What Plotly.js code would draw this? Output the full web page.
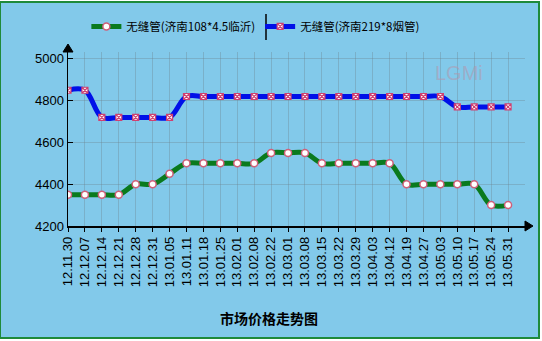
<!DOCTYPE html>
<html>
<head>
<meta charset="utf-8">
<script src="https://cdn.plot.ly/plotly-3.0.1.min.js"></script>
<style>html,body{margin:0;padding:0;background:#fff;}#chart{width:542px;height:341px;}</style>
</head>
<body>
<div id="chart"></div>
<script>
const dates = ["12.11.30","12.12.07","12.12.14","12.12.21","12.12.28","12.12.31","13.01.05","13.01.11","13.01.18","13.01.25","13.02.01","13.02.08","13.02.22","13.03.01","13.03.08","13.03.15","13.03.22","13.03.29","13.04.03","13.04.12","13.04.19","13.04.27","13.05.03","13.05.10","13.05.17","13.05.24","13.05.31"];
const seriesLinyi = [4350,4350,4350,4350,4400,4400,4450,4500,4500,4500,4500,4500,4550,4550,4550,4500,4500,4500,4500,4500,4400,4400,4400,4400,4400,4300,4300];
const seriesYantai = [4850,4850,4720,4720,4720,4720,4720,4820,4820,4820,4820,4820,4820,4820,4820,4820,4820,4820,4820,4820,4820,4820,4820,4770,4770,4770,4770];
const nameLinyi = "无缝管(济南108*4.5临沂)";
const nameYantai = "无缝管(济南219*8烟管)";
const chartTitle = "市场价格走势图";
const yTicks = [4200,4400,4600,4800,5000];

const idx = dates.map((d,i)=>i);
const bg = "#82C9EA";

const traces = [
  {x: idx, y: seriesLinyi, name: nameLinyi, type: "scatter", mode: "lines+markers",
   line: {color: "#0a7a1e", width: 5, shape: "spline", smoothing: 1},
   marker: {symbol: "circle", size: 7, color: "#ffffff", line: {color: "#d0607a", width: 1.5}}},
  {x: idx, y: seriesYantai, name: nameYantai, type: "scatter", mode: "lines+markers",
   line: {color: "#0010e8", width: 5, shape: "spline", smoothing: 1},
   marker: {symbol: "square-x", size: 6, color: "#ffffff", line: {color: "#d04070", width: 1.2}}}
];

const layout = {
  width: 542, height: 341,
  paper_bgcolor: "#ffffff",
  plot_bgcolor: "rgba(0,0,0,0)",
  margin: {l: 68, r: 17, t: 52, b: 115},
  font: {family: "Liberation Sans, Arial, sans-serif", color: "#000"},
  showlegend: true,
  legend: {orientation: "h", x: 0.41, xref: "paper", xanchor: "center", y: 0.965, yref: "container", yanchor: "top",
           font: {size: 11.5, family: "Noto Sans CJK SC, Liberation Sans, sans-serif"}, bgcolor: "rgba(0,0,0,0)",
           itemwidth: 30, tracegroupgap: 0},
  xaxis: {
    type: "linear", range: [0, 27], tickmode: "array", tickvals: idx, ticktext: dates,
    tickangle: -90, tickfont: {size: 13}, ticks: "outside", ticklen: 4, tickcolor: "#000",
    showline: true, linecolor: "#000", linewidth: 1.5,
    showgrid: true, gridcolor: "rgba(110,130,140,0.35)", gridwidth: 1, zeroline: false, fixedrange: true
  },
  yaxis: {
    range: [4200, 5033], tickmode: "array", tickvals: yTicks,
    tickfont: {size: 13}, ticks: "inside", ticklen: 5, tickcolor: "#000",
    showline: true, linecolor: "#000", linewidth: 1.5,
    showgrid: true, gridcolor: "rgba(110,130,140,0.35)", gridwidth: 1, zeroline: false, fixedrange: true
  },
  shapes: [
    {type: "rect", xref: "paper", yref: "paper", x0: -68/457, x1: 1 + 14/457, y0: -112/174, y1: 1 + 50/174,
     fillcolor: bg, line: {color: "#1f8a3a", width: 2}, layer: "below"},
    {type: "line", xref: "paper", yref: "paper", x0: (266-68)/457, x1: (266-68)/457, y0: 1 + 12/174, y1: 1 + 38/174,
     line: {color: "#000", width: 1.5}},
    {type: "path", xref: "paper", yref: "paper",
     path: "M " + (-5/457) + " 1 L " + (5/457) + " 1 L 0 " + (1 + 8/174) + " Z",
     fillcolor: "#000", line: {color: "#000", width: 1}},
    {type: "path", xref: "paper", yref: "paper",
     path: "M 1 " + (-5/174) + " L 1 " + (5/174) + " L " + (1 + 8/457) + " 0 Z",
     fillcolor: "#000", line: {color: "#000", width: 1}}
  ],
  annotations: [
    {text: "<b>" + chartTitle + "</b>", xref: "paper", yref: "paper", x: 0.44, y: -92/174,
     xanchor: "center", yanchor: "middle", showarrow: false,
     font: {size: 14, family: "Noto Sans CJK SC, sans-serif", color: "#000"}},
    {text: "LGMi", xref: "paper", yref: "paper", x: 0.855, y: 0.88, xanchor: "center", yanchor: "middle",
     showarrow: false, font: {size: 20, family: "Liberation Sans, sans-serif", color: "rgba(180,150,170,0.55)"}}
  ]
};

Plotly.newPlot("chart", traces, layout, {displayModeBar: false, staticPlot: true});
</script>
</body>
</html>
